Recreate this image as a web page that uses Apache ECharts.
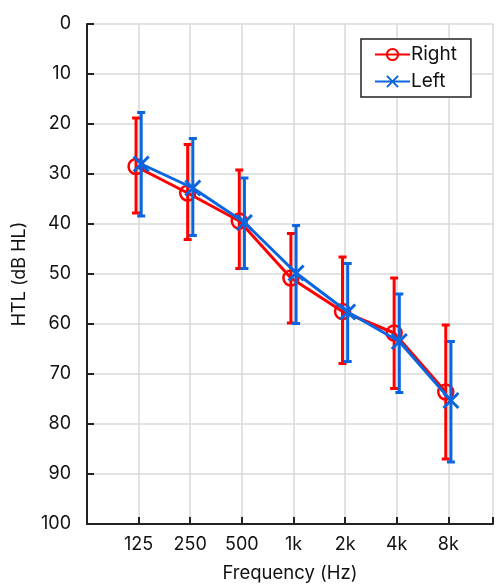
<!DOCTYPE html>
<html>
<head>
<meta charset="utf-8">
<script src="https://cdn.jsdelivr.net/npm/echarts@6/dist/echarts.min.js"></script>
<style>
html,body{margin:0;padding:0;background:#fff;}
#c{width:496px;height:588px;}
</style>
</head>
<body>
<div id="c"></div>
<script>
const categories = ['125', '250', '500', '1k', '2k', '4k', '8k'];
const yTicks = [0, 10, 20, 30, 40, 50, 60, 70, 80, 90, 100];
const rightMean = [28.5, 33.8, 39.4, 50.8, 57.5, 61.8, 73.6];
const rightLow  = [18.8, 24.1, 29.2, 41.9, 46.6, 50.8, 60.2];
const rightHigh = [37.8, 43.1, 48.9, 59.8, 67.9, 72.9, 87.0];
const leftMean  = [28.0, 32.8, 39.7, 49.8, 57.6, 63.5, 75.3];
const leftLow   = [17.7, 22.9, 30.8, 40.3, 47.9, 54.0, 63.5];
const leftHigh  = [38.4, 42.3, 48.9, 59.9, 67.5, 73.7, 87.6];

const RED = '#ff0000';
const BLUE = '#0a66e0';
const FONT = 'Inter';
const offR = -0.05, offL = 0.05;

function errSeries(name, low, high, off, color, z) {
  return {
    type: 'custom',
    name: name + 'err',
    z: z,
    data: low.map((v, i) => [i + 1 + off, v, high[i]]),
    renderItem: function (params, api) {
      const p1 = api.coord([api.value(0), api.value(1)]);
      const p2 = api.coord([api.value(0), api.value(2)]);
      const hw = 4;
      const st = { stroke: color, lineWidth: 3 };
      return {
        type: 'group',
        children: [
          { type: 'line', shape: { x1: p1[0], y1: p1[1], x2: p2[0], y2: p2[1] }, style: st },
          { type: 'line', shape: { x1: p1[0] - hw, y1: p1[1], x2: p1[0] + hw, y2: p1[1] }, style: st },
          { type: 'line', shape: { x1: p2[0] - hw, y1: p2[1], x2: p2[0] + hw, y2: p2[1] }, style: st }
        ]
      };
    },
    silent: true
  };
}

const xPath = 'path://M0,0L10,10M10,0L0,10';

const chart = echarts.init(document.getElementById('c'), null, { renderer: 'canvas' });
chart.setOption({
  animation: false,
  backgroundColor: '#fff',
  grid: { left: 87, top: 24, right: 0, bottom: 60, containLabel: false },
  legend: {
    data: ['Right', 'Left'],
    orient: 'vertical',
    left: 361,
    top: 39,
    padding: [6, 14, 6, 13],
    itemGap: 8,
    itemWidth: 35,
    itemHeight: 14,
    borderColor: '#222',
    borderWidth: 1.5,
    borderRadius: 0,
    backgroundColor: '#fff',
    textStyle: { fontFamily: FONT, fontSize: 19, color: '#111', padding: [0, 0, 0, -4] }
  },
  xAxis: {
    type: 'value',
    min: 0,
    max: 7.865,
    interval: 1,
    name: 'Frequency (Hz)',
    nameLocation: 'middle',
    nameGap: 40,
    nameTextStyle: { fontFamily: FONT, fontSize: 18.5, color: '#111' },
    axisLine: { show: true, onZero: false, lineStyle: { color: '#222', width: 2 } },
    axisTick: { show: true, inside: true, length: 7, lineStyle: { color: '#222', width: 2 } },
    axisLabel: {
      fontFamily: FONT, fontSize: 18, color: '#111', margin: 12,
      formatter: function (v) { return v >= 1 && v <= categories.length ? categories[v - 1] : ''; }
    },
    splitLine: { show: true, lineStyle: { color: '#d9d9d9', width: 1.5 } }
  },
  yAxis: {
    type: 'value',
    inverse: true,
    min: yTicks[0],
    max: yTicks[yTicks.length - 1],
    interval: 10,
    name: 'HTL (dB HL)',
    nameLocation: 'middle',
    nameGap: 58,
    nameRotate: 90,
    nameTextStyle: { fontFamily: FONT, fontSize: 18, color: '#111' },
    axisLine: { show: true, lineStyle: { color: '#222', width: 2 } },
    axisTick: { show: true, inside: true, length: 7, lineStyle: { color: '#222', width: 2 } },
    axisLabel: { fontFamily: FONT, fontSize: 18, color: '#111', margin: 16 },
    splitLine: { show: true, lineStyle: { color: '#d9d9d9', width: 1.5 } }
  },
  series: [
    errSeries('Right', rightLow, rightHigh, offR, RED, 2),
    {
      type: 'line',
      name: 'Right',
      z: 3,
      data: rightMean.map((v, i) => [i + 1 + offR, v]),
      symbol: 'circle',
      symbolSize: 15,
      lineStyle: { color: RED, width: 3 },
      itemStyle: { color: 'rgba(0,0,0,0)', borderColor: RED, borderWidth: 2.5 },
      color: RED
    },
    errSeries('Left', leftLow, leftHigh, offL, BLUE, 4),
    {
      type: 'line',
      name: 'Left',
      z: 5,
      data: leftMean.map((v, i) => [i + 1 + offL, v]),
      symbol: xPath,
      symbolSize: 15,
      lineStyle: { color: BLUE, width: 3 },
      itemStyle: { color: 'none', borderColor: BLUE, borderWidth: 3 },
      color: BLUE
    }
  ]
});
</script>
</body>
</html>
